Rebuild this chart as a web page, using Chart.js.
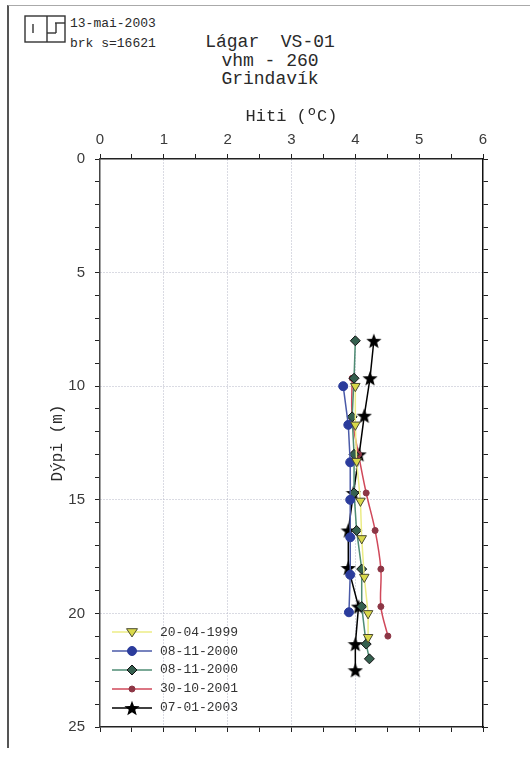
<!DOCTYPE html>
<html>
<head>
<meta charset="utf-8">
<title>Lágar VS-01</title>
<script src="https://cdn.jsdelivr.net/npm/chart.js@4.4.1/dist/chart.umd.min.js"></script>
<style>
  body { margin: 0; background: #fff; }
  #page { position: relative; width: 530px; height: 761px; overflow: hidden; }
  #frame { position: absolute; left: 7px; top: 5px; width: 523px; height: 742px;
           border-left: 2px solid #555; border-top: 1px solid #aaa; }
  #chart { position: absolute; left: 0; top: 0; }
  .mono { font-family: "Liberation Mono", "Courier New", monospace; color: #2a2a2a; }
  #stamp { position: absolute; left: 70px; top: 14px; font-size: 13px; line-height: 20px; }
  #title { position: absolute; left: 170px; top: 33px; width: 200px; text-align: center;
           font-size: 18px; line-height: 18.5px; white-space: pre; }
  #legend { position: absolute; left: 110px; top: 623px; font-size: 13px; color: #333; }
  #legend .row { display: flex; align-items: center; height: 18.8px; }
  #legend canvas { margin-right: 6px; }
</style>
</head>
<body>
<div id="page">
  <div id="frame"></div>
  <svg style="position:absolute;left:24px;top:15px" width="44" height="30">
    <g fill="none" stroke="#333" stroke-width="1.4">
      <rect x="1" y="1" width="40" height="26"/>
      <line x1="9" y1="9" x2="9" y2="18"/>
      <line x1="23" y1="1" x2="23" y2="27"/>
      <line x1="31" y1="8" x2="41" y2="8"/>
      <line x1="23" y1="18" x2="32" y2="18"/>
      <line x1="32" y1="8" x2="32" y2="18"/>
    </g>
  </svg>
  <div id="stamp" class="mono">13-mai-2003<br>brk s=16621</div>
  <div id="title" class="mono">Lágar  VS-01
vhm - 260
Grindavík</div>
  <canvas id="chart" width="530" height="761"></canvas>
  <div id="legend" class="mono"></div>
</div>

<script>
// ---- data (temperature in ºC, depth in m) ----
const seriesLabels = ["20-04-1999", "08-11-2000", "08-11-2000", "30-10-2001", "07-01-2003"];

const depth_1999 = [10.0, 11.7, 13.3, 15.05, 16.7, 18.4, 20.0, 21.05];
const temp_1999  = [4.00, 4.00, 4.02, 4.08, 4.10, 4.14, 4.20, 4.20];

const depth_2000a = [10.0, 11.7, 13.35, 15.0, 16.65, 18.3, 19.95];
const temp_2000a  = [3.81, 3.89, 3.92, 3.92, 3.92, 3.92, 3.90];

const depth_2000b = [8.0, 9.65, 11.35, 13.0, 14.7, 16.35, 18.05, 19.7, 21.35, 22.0];
const temp_2000b  = [4.00, 3.98, 3.95, 3.98, 3.98, 4.02, 4.10, 4.10, 4.17, 4.22];

const depth_2001 = [9.65, 11.35, 13.0, 14.7, 16.35, 18.05, 19.7, 21.0];
const temp_2001  = [3.95, 3.95, 4.05, 4.17, 4.31, 4.40, 4.40, 4.51];

const depth_2003 = [8.0, 9.65, 11.3, 13.0, 14.7, 16.35, 18.0, 19.7, 21.35, 22.5];
const temp_2003  = [4.29, 4.23, 4.14, 4.06, 3.97, 3.89, 3.89, 4.05, 4.00, 4.00];

const xTickLabels = [0, 1, 2, 3, 4, 5, 6];
const yTickLabels = [0, 5, 10, 15, 20, 25];

function toPoints(temps, depths) {
  return temps.map((t, i) => ({ x: t, y: depths[i] }));
}

// filled five point star for the 2003 series
function starImage(size, color) {
  const c = document.createElement("canvas");
  c.width = size; c.height = size;
  const g = c.getContext("2d");
  const r = size / 2, ri = r * 0.42;
  g.beginPath();
  for (let i = 0; i < 10; i++) {
    const a = -Math.PI / 2 + i * Math.PI / 5;
    const rr = i % 2 ? ri : r;
    g.lineTo(r + rr * Math.cos(a), r + 0.8 + rr * Math.sin(a));
  }
  g.closePath();
  g.fillStyle = color;
  g.fill();
  return c;
}
const star = starImage(16, "#000");

const styles = [
  { line: "#ecec86", fill: "#d9d94a", edge: "#4a4a30", shape: "triDown", r: 5.5 },
  { line: "#4a5aa8", fill: "#2b3c9c", edge: "#2b3c9c", shape: "circle", r: 4.5 },
  { line: "#4f8c74", fill: "#35604f", edge: "#111", shape: "diamond", r: 5 },
  { line: "#d0485a", fill: "#8c3645", edge: "#8c3645", shape: "circle", r: 3 },
  { line: "#000", fill: "#000", edge: "#000", shape: "star", r: 7 },
];

const pointSets = [
  toPoints(temp_1999, depth_1999),
  toPoints(temp_2000a, depth_2000a),
  toPoints(temp_2000b, depth_2000b),
  toPoints(temp_2001, depth_2001),
  toPoints(temp_2003, depth_2003),
];

const chartStyle = {
  triDown: { pointStyle: "triangle", pointRotation: 180 },
  circle: { pointStyle: "circle" },
  diamond: { pointStyle: "rectRot" },
  star: { pointStyle: star },
};

const datasets = pointSets.map((pts, i) => {
  const s = styles[i];
  return Object.assign({
    label: seriesLabels[i],
    data: pts,
    showLine: true,
    borderColor: s.line,
    borderWidth: 1.5,
    pointRadius: s.r,
    pointBackgroundColor: s.fill,
    pointBorderColor: s.edge,
    pointBorderWidth: 1,
    tension: i === 3 ? 0.35 : 0,
    xAxisID: "x",
    yAxisID: "y",
  }, chartStyle[s.shape]);
});

const monoFont = "'Liberation Mono', 'Courier New', monospace";
const sansFont = "'Liberation Sans', Arial, sans-serif";
const gridColor = "#b4b6c6";

function majorGrid(list, lo, hi) {
  return (c) => {
    const v = c.tick ? c.tick.value : null;
    return v !== null && list.includes(v) && v > lo && v < hi ? gridColor : "rgba(0,0,0,0)";
  };
}

const config = {
  type: "scatter",
  data: { datasets: datasets },
  options: {
    responsive: false,
    animation: false,
    devicePixelRatio: 1,
    layout: { padding: { left: 44, top: 103, right: 0, bottom: 0 } },
    plugins: { legend: { display: false }, tooltip: { enabled: false } },
    scales: {
      x: {
        type: "linear", position: "top", min: 0, max: 6,
        afterFit: (s) => { s.height = 56; },
        ticks: {
          stepSize: 0.5, autoSkip: false, maxRotation: 0, padding: 5, color: "#3a3a3a",
          font: { family: sansFont, size: 15 },
          callback: (v) => (xTickLabels.includes(v) ? v : ""),
        },
        grid: { color: majorGrid(xTickLabels, 0, 6), tickColor: "#222", tickLength: 5 },
        border: { color: "#222", width: 1.5, dash: [1, 2] },
        title: { display: true, text: "Hiti (ºC)", color: "#2a2a2a",
                 font: { family: monoFont, size: 17 }, padding: { top: 3, bottom: 0 } },
      },
      x2: {
        type: "linear", position: "bottom", min: 0, max: 6,
        afterFit: (s) => { s.height = 34; },
        ticks: { stepSize: 0.5, autoSkip: false, maxRotation: 0, callback: () => "" },
        grid: { drawOnChartArea: false, tickColor: "#222", tickLength: 5 },
        border: { color: "#222", width: 1.5 },
      },
      y: {
        type: "linear", position: "left", reverse: true, min: 0, max: 25,
        afterFit: (s) => { s.width = 56; },
        ticks: {
          stepSize: 1, autoSkip: false, padding: 10, color: "#3a3a3a",
          font: { family: sansFont, size: 15 },
          callback: (v) => (yTickLabels.includes(v) ? v : ""),
        },
        grid: { color: majorGrid(yTickLabels, 0, 25), tickColor: "#222", tickLength: 5 },
        border: { color: "#444", width: 1.5, dash: [1, 2] },
        title: { display: true, text: "Dýpi (m)", color: "#2a2a2a",
                 font: { family: monoFont, size: 16 }, padding: { top: 4, bottom: 4 } },
      },
      y2: {
        type: "linear", position: "right", reverse: true, min: 0, max: 25,
        afterFit: (s) => { s.width = 47; },
        ticks: { stepSize: 1, autoSkip: false, callback: () => "" },
        grid: { drawOnChartArea: false, tickColor: "#222", tickLength: 5 },
        border: { color: "#111", width: 1.5 },
      },
    },
  },
};

new Chart(document.getElementById("chart"), config);

// legend inside the plot, bottom left
function drawSample(s) {
  const c = document.createElement("canvas");
  c.width = 44; c.height = 16;
  const g = c.getContext("2d");
  const cx = 22, cy = 8;
  g.strokeStyle = s.line; g.lineWidth = 1.5;
  g.beginPath(); g.moveTo(2, cy); g.lineTo(42, cy); g.stroke();
  g.fillStyle = s.fill; g.strokeStyle = s.edge; g.lineWidth = 1;
  g.beginPath();
  if (s.shape === "circle") {
    g.arc(cx, cy, s.r, 0, Math.PI * 2);
  } else if (s.shape === "diamond") {
    g.moveTo(cx, cy - s.r); g.lineTo(cx + s.r, cy); g.lineTo(cx, cy + s.r); g.lineTo(cx - s.r, cy);
  } else if (s.shape === "triDown") {
    g.moveTo(cx - s.r, cy - s.r * 0.6); g.lineTo(cx + s.r, cy - s.r * 0.6); g.lineTo(cx, cy + s.r * 0.9);
  }
  if (s.shape === "star") {
    g.drawImage(star, cx - 8, cy - 8);
  } else {
    g.closePath(); g.fill(); g.stroke();
  }
  return c;
}

const legendBox = document.getElementById("legend");
seriesLabels.forEach((lab, i) => {
  const row = document.createElement("div");
  row.className = "row";
  row.appendChild(drawSample(styles[i]));
  const txt = document.createElement("span");
  txt.textContent = lab;
  row.appendChild(txt);
  legendBox.appendChild(row);
});
</script>
</body>
</html>
